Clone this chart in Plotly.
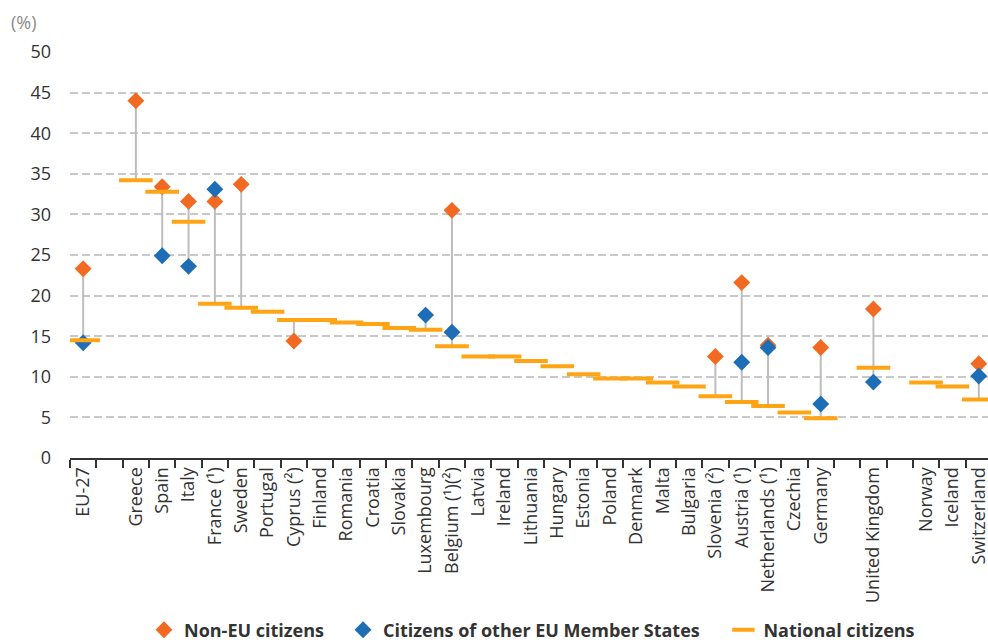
import plotly.graph_objects as go

categories = ["EU-27", " ", "Greece", "Spain", "Italy", "France (¹)", "Sweden", "Portugal",
              "Cyprus (²)", "Finland", "Romania", "Croatia", "Slovakia", "Luxembourg",
              "Belgium (¹)(²)", "Latvia", "Ireland", "Lithuania", "Hungary", "Estonia",
              "Poland", "Denmark", "Malta", "Bulgaria", "Slovenia (²)", "Austria (¹)",
              "Netherlands (¹)", "Czechia", "Germany", "  ", "United Kingdom", "   ",
              "Norway", "Iceland", "Switzerland"]

non_eu = [23.3, None, 44.0, 33.4, 31.6, 31.6, 33.7, None,
          14.4, None, None, None, None, None,
          30.5, None, None, None, None, None,
          None, None, None, None, 12.5, 21.6,
          13.9, None, 13.6, None, 18.35, None,
          None, None, 11.6]

other_eu = [14.2, None, None, 24.9, 23.6, 33.1, None, None,
            None, None, None, None, None, 17.6,
            15.5, None, None, None, None, None,
            None, None, None, None, None, 11.8,
            13.6, None, 6.65, None, 9.35, None,
            None, None, 10.1]

national = [14.5, None, 34.2, 32.8, 29.1, 19.0, 18.5, 18.0,
            17.0, 17.0, 16.7, 16.5, 16.0, 15.8,
            13.75, 12.5, 12.5, 11.95, 11.3, 10.3,
            9.8, 9.8, 9.3, 8.8, 7.6, 6.9,
            6.4, 5.6, 4.9, None, 11.1, None,
            9.3, 8.8, 7.2]

y_ticks = [0, 5, 10, 15, 20, 25, 30, 35, 40, 45, 50]

# range connectors (min to max of the available values per country)
lx, ly = [], []
for c, a, b, n in zip(categories, non_eu, other_eu, national):
    vals = [v for v in (a, b, n) if v is not None]
    if len(vals) > 1 and max(vals) > min(vals):
        lx += [c, c, None]
        ly += [min(vals), max(vals), None]

ORANGE = "#F26A21"
BLUE = "#1D6EB6"
YELLOW = "#FFA515"
FONT = "Open Sans"
NB = "\u00a0"

fig = go.Figure()
fig.add_trace(go.Scatter(x=lx, y=ly, mode="lines", line=dict(color="#BDBDBD", width=2),
                         showlegend=False, hoverinfo="skip"))
fig.add_trace(go.Scatter(x=categories, y=non_eu, mode="markers", name="Non-EU citizens" + NB * 3,
                         marker=dict(symbol="diamond", size=13, color=ORANGE, line=dict(width=0))))
fig.add_trace(go.Scatter(x=categories, y=other_eu, mode="markers",
                         name="Citizens of other EU Member States" + NB * 4,
                         marker=dict(symbol="diamond", size=13, color=BLUE, line=dict(width=0))))
fig.add_trace(go.Scatter(x=categories, y=national, mode="markers", name="National citizens",
                         marker=dict(symbol="line-ew", size=24, color=YELLOW,
                                     line=dict(width=4, color=YELLOW))))

fig.update_layout(
    width=988, height=644,
    margin=dict(l=70, r=0, t=52, b=186, autoexpand=False),
    paper_bgcolor="white", plot_bgcolor="white",
    font=dict(family=FONT, size=18, color="#333333"),
    legend=dict(orientation="h", x=(144 - 70) / 918, xanchor="left",
                yref="container", y=1 - 630 / 644, yanchor="middle",
                font=dict(family=FONT, size=18, color="#333333", weight="bold"),
                itemsizing="trace", traceorder="normal"),
    annotations=[dict(text="(%)", xref="paper", yref="paper", x=-0.066, y=1.074,
                      xanchor="left", yanchor="middle", showarrow=False,
                      font=dict(family=FONT, size=18, color="#8A8A8A"))],
)
fig.update_xaxes(type="category", categoryorder="array", categoryarray=categories,
                 range=[-0.5, 34.35], tickson="boundaries", ticks="outside", ticklen=8,
                 tickwidth=2, tickcolor="#333333", showline=True, linecolor="#333333",
                 linewidth=2, showgrid=False, tickangle=-90, automargin=False,
                 ticklabeloverflow="allow",
                 tickfont=dict(family=FONT, size=18, color="#333333"))
fig.update_yaxes(range=[0, 50], tickvals=y_ticks, showgrid=True, gridcolor="#C8C8C8",
                 griddash="8px,4px", gridwidth=1.5, zeroline=False, showline=False,
                 ticks="", automargin=False,
                 tickfont=dict(family=FONT, size=18, color="#333333"),
                 ticklabelstandoff=18)

fig.write_html("out.html", config={"displayModeBar": False},
               post_script="document.body.style.margin='0px';")
